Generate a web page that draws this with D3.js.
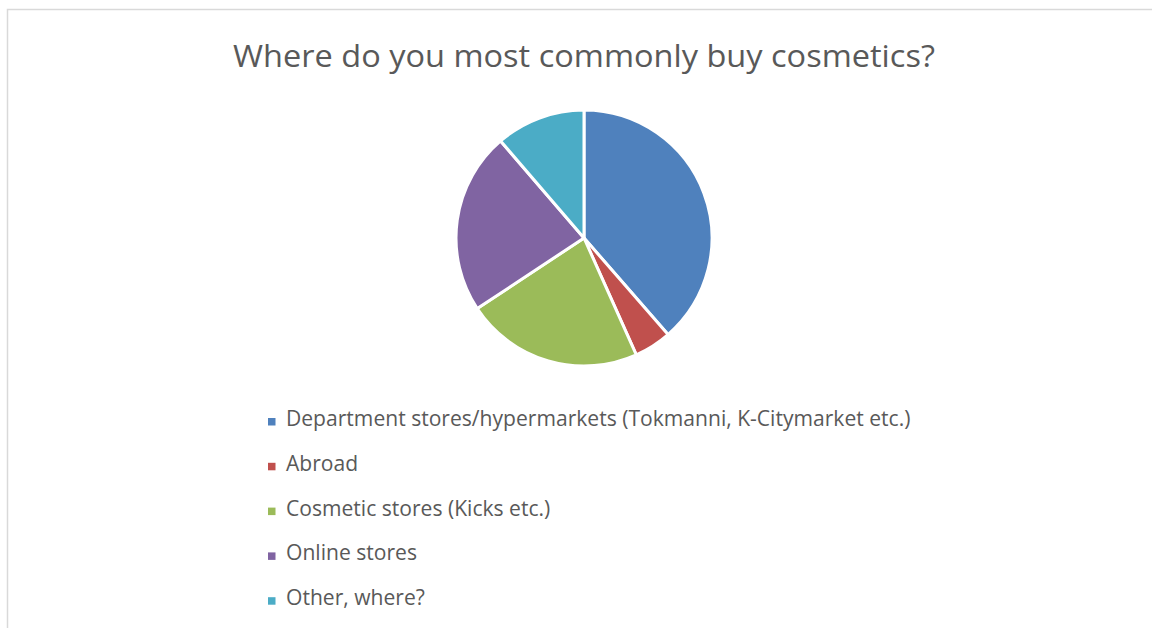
<!DOCTYPE html>
<html>
<head>
<meta charset="utf-8">
<script src="https://cdn.jsdelivr.net/npm/d3@7"></script>
<style>
  html, body { margin: 0; padding: 0; background: #ffffff; }
  svg { display: block; }
</style>
</head>
<body>
<svg id="chart" width="1152" height="628"></svg>
<script>
// Survey answers: share of respondents (%) per purchase channel
const categories = [
  "Department stores/hypermarkets (Tokmanni, K-Citymarket etc.)",
  "Abroad",
  "Cosmetic stores (Kicks etc.)",
  "Online stores",
  "Other, where?"
];
const shares = [38.6, 4.7, 22.4, 23.0, 11.3];
const sliceColors = ["#4F81BD", "#C0504D", "#9BBB59", "#8064A2", "#4BACC6"];
const chartTitle = "Where do you most commonly buy cosmetics?";

const svg = d3.select("#chart");
const W = 1152, H = 628;
const textColor = "#595959";
const fontFamily = "'Open Sans', 'Noto Sans', sans-serif";

// chart area frame (runs off the right and bottom edges)
svg.append("rect")
  .attr("x", 7.5).attr("y", 9.5)
  .attr("width", W + 20).attr("height", H + 20)
  .attr("fill", "#ffffff")
  .attr("stroke", "#d9d9d9")
  .attr("stroke-width", 1.5);

// title, narrowed to Calibri-like proportions
const titleCx = 584, titleWidth = 702;
const title = svg.append("text")
  .attr("x", titleCx).attr("y", 67)
  .attr("text-anchor", "middle")
  .attr("font-family", fontFamily)
  .attr("font-size", 31)
  .attr("fill", textColor)
  .text(chartTitle);
const tw = title.node().getComputedTextLength();
title.attr("transform", `translate(${titleCx},0) scale(${titleWidth / tw},1) translate(${-titleCx},0)`);

// pie
const cx = 584, cy = 238, radius = 128;
const color = d3.scaleOrdinal().domain(categories).range(sliceColors);
const pie = d3.pie().sort(null).value(d => d.value);
const arc = d3.arc().innerRadius(0).outerRadius(radius);
const data = categories.map((c, i) => ({ name: c, value: shares[i] }));

svg.append("g")
  .attr("transform", `translate(${cx},${cy})`)
  .selectAll("path")
  .data(pie(data))
  .join("path")
  .attr("d", arc)
  .attr("fill", d => color(d.data.name))
  .attr("stroke", "#ffffff")
  .attr("stroke-width", 3)
  .attr("stroke-linejoin", "round");

// legend: one row per category
const legendX = 268, legendTop = 426, rowStep = 44.8;
const legendTextX = 286, longestWidth = 625;
const rowY = d3.scalePoint().domain(categories).range([legendTop, legendTop + rowStep * (categories.length - 1)]);

const legend = svg.append("g");
const rows = legend.selectAll("g")
  .data(categories)
  .join("g")
  .attr("transform", d => `translate(0,${rowY(d)})`);

rows.append("rect")
  .attr("x", legendX).attr("y", -8)
  .attr("width", 7.5).attr("height", 7.5)
  .attr("fill", d => color(d));

const labels = rows.append("text")
  .attr("x", legendTextX).attr("y", 0)
  .attr("font-family", fontFamily)
  .attr("font-size", 21)
  .attr("fill", textColor)
  .text(d => d);

// horizontal squeeze shared by all labels, sized from the longest one
const maxW = d3.max(labels.nodes(), n => n.getComputedTextLength());
const sx = longestWidth / maxW;
labels.attr("transform", `translate(${legendTextX},0) scale(${sx},1) translate(${-legendTextX},0)`);
</script>
</body>
</html>
